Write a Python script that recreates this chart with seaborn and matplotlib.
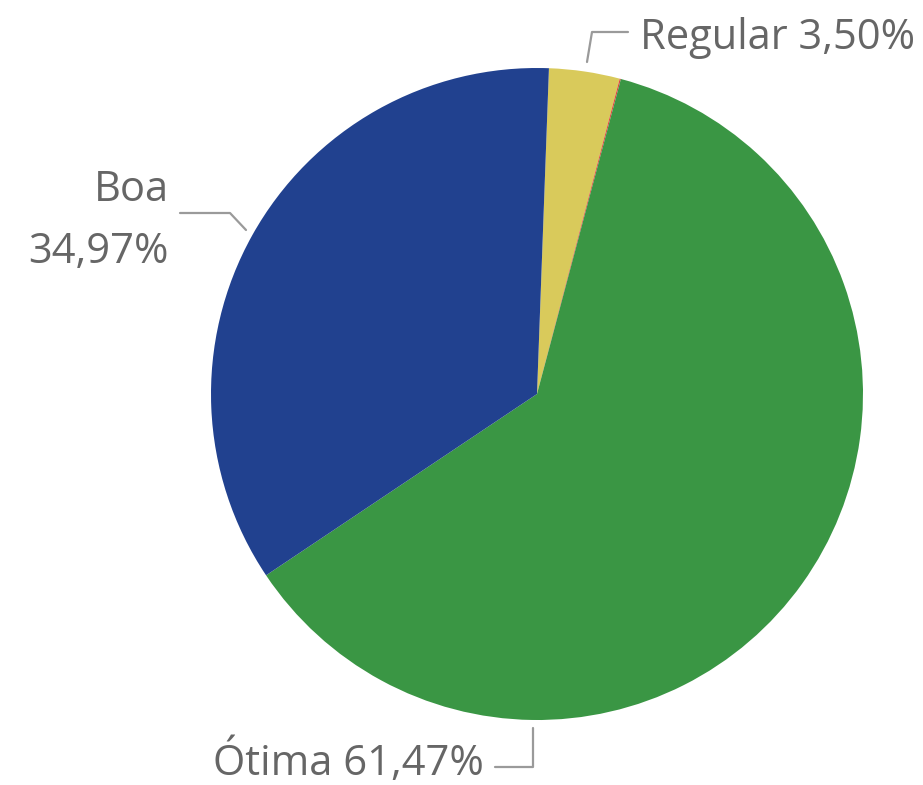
import matplotlib.pyplot as plt
import seaborn as sns

sns.set_theme(style="white")
plt.rcParams["font.family"] = ["Open Sans", "DejaVu Sans"]

# Data (clockwise from the top)
categories = ["Regular", "Ruim", "Ótima", "Boa"]
shares = [3.50, 0.06, 61.47, 34.97]
colors = ["#D9CA5B", "#E0463A", "#3A9644", "#21418F"]

W, H = 923, 785
fig = plt.figure(figsize=(W / 100, H / 100), dpi=100)
ax = fig.add_axes([0, 0, 1, 1])
ax.set_xlim(0, W)
ax.set_ylim(0, H)
ax.set_aspect("equal")
ax.axis("off")

cx, cy, r = 537, H - 394, 326
ax.pie(shares, colors=colors, startangle=87.9, counterclock=False,
       center=(cx, cy), radius=r, frame=True,
       wedgeprops=dict(linewidth=0))
ax.set_xlim(0, W)
ax.set_ylim(0, H)
ax.axis("off")

txt = dict(color="#666666", fontsize=30)
line = dict(color="#9a9a9a", lw=1.6)


def fmt(v):
    return f"{v:.2f}".replace(".", ",") + "%"


# Regular
ax.plot([587, 592, 628], [H - 62, H - 32, H - 32], **line)
ax.text(640, H - 38, f"{categories[0]} {fmt(shares[0])}", ha="left", va="center", **txt)

# Boa
ax.plot([246, 230, 180], [H - 230, H - 213, H - 213], **line)
ax.text(169, H - 190, categories[3], ha="right", va="center", **txt)
ax.text(169, H - 252, fmt(shares[3]), ha="right", va="center", **txt)

# Ótima
ax.plot([533, 533, 495], [H - 728, H - 767, H - 767], **line)
ax.text(484, H - 762, f"{categories[2]} {fmt(shares[2])}", ha="right", va="center", **txt)

fig.savefig("out.png", dpi=100)
